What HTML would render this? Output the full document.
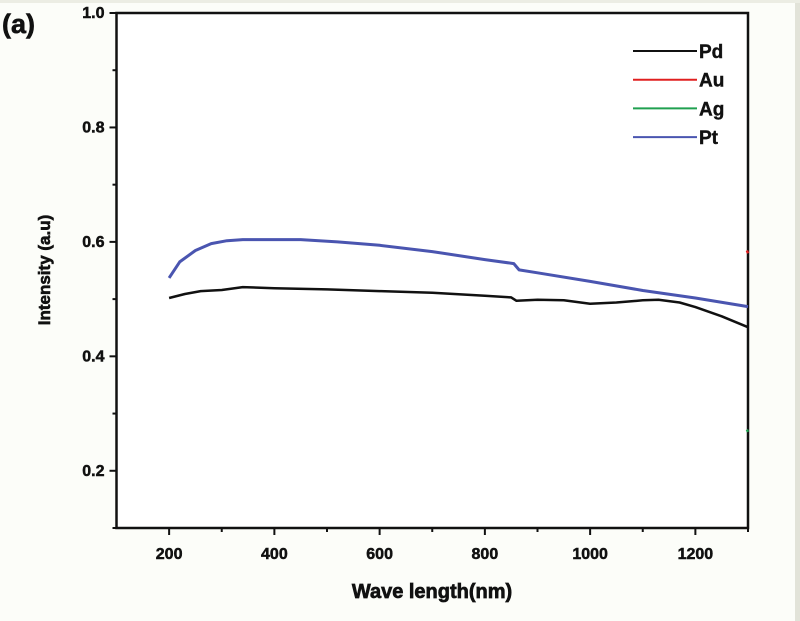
<!DOCTYPE html>
<html><head><meta charset="utf-8"><style>
html,body{margin:0;padding:0;background:#fcfdf9;}
svg{display:block;font-family:"Liberation Sans",Arial,sans-serif;}
</style></head><body>
<svg width="800" height="621" viewBox="0 0 800 621" id="chart">
<rect x="0" y="0" width="800" height="621" fill="#fcfdf9"/>
<rect x="795" y="0" width="5" height="621" fill="#e2e3d9"/>
<rect x="0" y="0" width="800" height="3" fill="#ecede4"/>
<text x="2" y="33" font-size="27" font-weight="bold" fill="#111" stroke="#111" stroke-width="0.6">(a)</text>
<g id="axes"></g>
<g id="series"></g>
<g id="legend"></g>
<text x="432" y="598" font-size="20" font-weight="bold" text-anchor="middle" fill="#111" stroke="#111" stroke-width="0.7">Wave length(nm)</text>
<text transform="translate(50,270) rotate(-90)" font-size="17" font-weight="bold" text-anchor="middle" fill="#111" stroke="#111" stroke-width="0.6">Intensity (a.u)</text>
</svg>
<script>
const xTicks = [200, 400, 600, 800, 1000, 1200];
const yTicks = [0.2, 0.4, 0.6, 0.8, 1.0];
const seriesNames = ["Pd", "Au", "Ag", "Pt"];
const seriesColors = ["#111111", "#e02020", "#20a050", "#4a55b0"];
const pdX = [200, 230, 260, 300, 340, 400, 500, 600, 700, 800, 850, 860, 900, 950, 1000, 1050, 1100, 1130, 1170, 1200, 1250, 1300];
const pdY = [0.502, 0.509, 0.514, 0.516, 0.521, 0.519, 0.517, 0.514, 0.511, 0.506, 0.503, 0.497, 0.499, 0.498, 0.492, 0.494, 0.498, 0.499, 0.494, 0.486, 0.47, 0.451];
const ptX = [200, 220, 250, 280, 310, 340, 400, 450, 520, 600, 700, 800, 855, 865, 900, 1000, 1100, 1200, 1300];
const ptY = [0.537, 0.565, 0.585, 0.597, 0.602, 0.604, 0.604, 0.604, 0.600, 0.594, 0.583, 0.569, 0.562, 0.551, 0.546, 0.531, 0.515, 0.502, 0.487];
const auX = [1298, 1300];
const auY = [0.585, 0.58];
const agX = [1298, 1300];
const agY = [0.272, 0.268];

const X0 = 116.5, X1 = 748, XMIN = 100, XMAX = 1300;
const Y0 = 528, Y1 = 13, YMIN = 0.1, YMAX = 1.0;
function sx(v){ return X0 + (v - XMIN) / (XMAX - XMIN) * (X1 - X0); }
function sy(v){ return Y0 - (v - YMIN) / (YMAX - YMIN) * (Y0 - Y1); }
const NS = "http://www.w3.org/2000/svg";
function mk(tag, attrs, parent){ const e = document.createElementNS(NS, tag); for (const k in attrs) e.setAttribute(k, attrs[k]); parent.appendChild(e); return e; }

const axes = document.getElementById("axes");
let fr = mk("rect", {x: X0, y: Y1, width: X1 - X0, height: Y0 - Y1, fill: "#ffffff", stroke: "#111", "stroke-width": 2.5}, axes);


xTicks.forEach(t => {
  const l = mk("line", {x1: sx(t), x2: sx(t), y1: Y0, y2: Y0 + 7, stroke: "#111", "stroke-width": 2}, axes);
  
  
  const m = mk("line", {x1: sx(t + 100), x2: sx(t + 100), y1: Y0, y2: Y0 + 4, stroke: "#111", "stroke-width": 2}, axes);
  
  
  const tx = mk("text", {x: sx(t), y: Y0 + 31, "font-size": 16, "font-weight": "bold", "text-anchor": "middle", fill: "#111", stroke: "#111", "stroke-width": 0.5}, axes);
  tx.textContent = t;
  
  
});
yTicks.forEach(t => {
  const l = mk("line", {x1: X0 - 7, x2: X0, y1: sy(t), y2: sy(t), stroke: "#111", "stroke-width": 2}, axes);
  
  
  const m = mk("line", {x1: X0 - 4, x2: X0, y1: sy(t - 0.1), y2: sy(t - 0.1), stroke: "#111", "stroke-width": 2}, axes);
  
  
  const tx = mk("text", {x: X0 - 12, y: sy(t) + 5, "font-size": 16, "font-weight": "bold", "text-anchor": "end", fill: "#111", stroke: "#111", "stroke-width": 0.5}, axes);
  tx.textContent = t.toFixed(1);
  
  
});

const sg = document.getElementById("series");
const data = [[pdX, pdY], [auX, auY], [agX, agY], [ptX, ptY]];
const drawOrder = [0, 1, 2, 3];
drawOrder.forEach(i => {
  const [xs, ys] = data[i];
  const d = xs.map((x, j) => (j ? "L" : "M") + sx(x).toFixed(1) + "," + sy(ys[j]).toFixed(1)).join(" ");
  const p = mk("path", {d: d, fill: "none", stroke: seriesColors[i], "stroke-width": i === 3 ? 3 : 2.5, "stroke-linejoin": "round"}, sg);
  
  
});

const lg = document.getElementById("legend");
seriesNames.forEach((n, i) => {
  const y = 51 + i * 28.7;
  const l = mk("line", {x1: 633, x2: 697, y1: y, y2: y, stroke: seriesColors[i], "stroke-width": 2}, lg);
  
  
  const t = mk("text", {x: 699, y: y + 7, "font-size": 19, "font-weight": "bold", fill: "#111", stroke: "#111", "stroke-width": 0.4}, lg);
  t.textContent = n;
  
  
});
</script>
</body></html>
